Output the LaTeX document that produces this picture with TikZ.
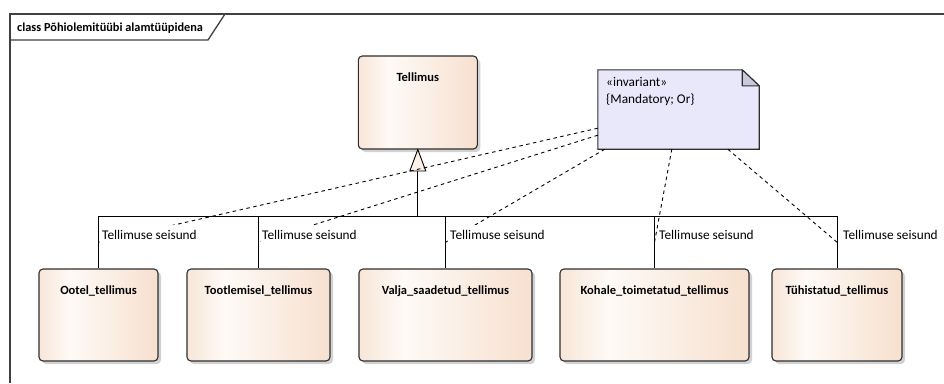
\documentclass[tikz,border=0pt]{standalone}
\usepackage{fontspec}
\setmainfont{Carlito}
\usetikzlibrary{shadows,calc}
\definecolor{boxL}{HTML}{F8E6D8}
\definecolor{boxM}{HTML}{FEFAF6}
\definecolor{boxR}{HTML}{F7E0CF}
\definecolor{noteF}{HTML}{E8E8FA}
\definecolor{foldF}{HTML}{C9C9DD}
\definecolor{edgeC}{HTML}{2E2E2E}
\definecolor{frameC}{HTML}{404040}
\definecolor{triF}{HTML}{FCF1E6}
\pgfdeclarehorizontalshading{clsshade}{100bp}{color(0bp)=(boxL); color(25bp)=(boxL); color(38bp)=(boxM); color(75bp)=(boxR); color(100bp)=(boxR)}
\tikzset{
  clsbox/.style={draw=edgeC, line width=1.1pt, rounded corners=4pt, shading=clsshade,
    drop shadow={shadow xshift=3pt, shadow yshift=-3pt, fill=black!22, opacity=0.8},
    inner sep=0pt},
  clstxt/.style={font=\fontsize{12.5}{15}\selectfont\bfseries, inner sep=0pt, anchor=base},
  roletxt/.style={font=\fontsize{13.3}{16}\selectfont, fill=white, inner xsep=1pt,
    inner ysep=5.5pt, text height=9.5pt, text depth=3pt, anchor=base west},
  notetxt/.style={font=\fontsize{13.3}{16}\selectfont, inner sep=0pt, anchor=base west},
  titletxt/.style={font=\fontsize{12.3}{15}\selectfont\bfseries, inner sep=0pt, anchor=base west},
  link/.style={draw=black, dash pattern=on 3.5pt off 3.5pt, line width=0.9pt},
  gen/.style={draw=black, line width=0.9pt},
  framec/.style={draw=frameC, line width=1.3pt},
  notebox/.style={draw=edgeC, fill=noteF, line width=1.1pt},
  foldc/.style={draw=edgeC, fill=foldF, line width=1.1pt, line join=round},
  genhead/.style={draw=black, fill=triF, line width=0.9pt, line join=miter}
}
\begin{document}
\begin{tikzpicture}[x=1pt, y=-1pt]
\useasboundingbox (0,0) rectangle (944,383);
% frame
\draw[framec] (10,383) -- (10,14) -- (944,14);
\draw[framec] (10,40) -- (208,40) -- (225,14);
\node[titletxt] (title) at (17,31.5) {class Põhiolemitüübi alamtüüpidena};
% classes
\node[clsbox, minimum width=119pt, minimum height=93pt] (tellimus) at (417.8,102.5) {};
\node[clstxt] (tellimusT) at ([yshift=-26pt]tellimus.north) {Tellimus};
\node[clsbox, minimum width=119pt, minimum height=92pt] (ootel) at (98.5,315) {};
\node[clstxt] (ootelT) at ([yshift=-26pt]ootel.north) {Ootel\_tellimus};
\node[clsbox, minimum width=143pt, minimum height=92pt] (tootl) at (258.5,315) {};
\node[clstxt] (tootlT) at ([yshift=-26pt]tootl.north) {Tootlemisel\_tellimus};
\node[clsbox, minimum width=173pt, minimum height=92pt] (valja) at (445.5,315) {};
\node[clstxt] (valjaT) at ([yshift=-26pt]valja.north) {Valja\_saadetud\_tellimus};
\node[clsbox, minimum width=189pt, minimum height=92pt] (kohale) at (654.5,315) {};
\node[clstxt] (kohaleT) at ([yshift=-26pt]kohale.north) {Kohale\_toimetatud\_tellimus};
\node[clsbox, minimum width=130pt, minimum height=92pt] (tuhist) at (837,315) {};
\node[clstxt] (tuhistT) at ([yshift=-26pt]tuhist.north) {Tühistatud\_tellimus};
% generalization tree
\coordinate (bus) at (417.8,216);
\coordinate (tri) at (417.8,171);
\draw[gen] (ootel.north) -- (ootel.north |- bus) -- (tuhist.north |- bus) -- (tuhist.north);
\draw[gen] (tootl.north) -- (tootl.north |- bus);
\draw[gen] (valja.north) -- (valja.north |- bus);
\draw[gen] (kohale.north) -- (kohale.north |- bus);
\draw[gen] (tri) -- (bus);
\draw[genhead] (tellimus.south) -- ([xshift=-8pt]tri) -- ([xshift=8pt]tri) -- cycle;
% note
\node[minimum width=161pt, minimum height=79pt, inner sep=0pt] (note) at (678.5,109.5) {};
\draw[notebox] (note.north west) -- ([xshift=-17pt]note.north east) -- ([yshift=-16pt]note.north east) -- (note.south east) -- (note.south west) -- cycle;
\draw[foldc] ([xshift=-17pt]note.north east) -- ([xshift=-17pt,yshift=-16pt]note.north east) -- ([yshift=-16pt]note.north east) -- cycle;
\node[notetxt] (inv) at (606,86) {«invariant»};
\node[notetxt] (cons) at (606,103) {\{Mandatory; Or\}};
% midpoints of connectors
\coordinate (m1) at ($(ootel.north)!0.5!(ootel.north |- bus)$);
\coordinate (m2) at ($(tootl.north)!0.5!(tootl.north |- bus)$);
\coordinate (m3) at ($(valja.north)!0.5!(valja.north |- bus)$);
\coordinate (m4) at ($(kohale.north)!0.5!(kohale.north |- bus)$);
\coordinate (m5) at ($(tuhist.north)!0.5!(tuhist.north |- bus)$);
% note links
\draw[link] ([yshift=21pt]note.south west) -- (m1);
\draw[link] ([yshift=14pt]note.south west) -- (m2);
\draw[link] ([xshift=7pt]note.south west) -- (m3);
\draw[link] ([xshift=74pt]note.south west) -- (m4);
\draw[link] ([xshift=130pt]note.south west) -- (m5);
% role labels
\node[roletxt] (r1) at ($(ootel.north)+(2.5,-28.5)$) {Tellimuse seisund};
\node[roletxt] (r2) at ($(tootl.north)+(2.5,-28.5)$) {Tellimuse seisund};
\node[roletxt] (r3) at ($(valja.north)+(3.5,-28.5)$) {Tellimuse seisund};
\node[roletxt] (r4) at ($(kohale.north)+(3.5,-28.5)$) {Tellimuse seisund};
\node[roletxt] (r5) at ($(tuhist.north)+(5,-28.5)$) {Tellimuse seisund};
\end{tikzpicture}
\end{document}
